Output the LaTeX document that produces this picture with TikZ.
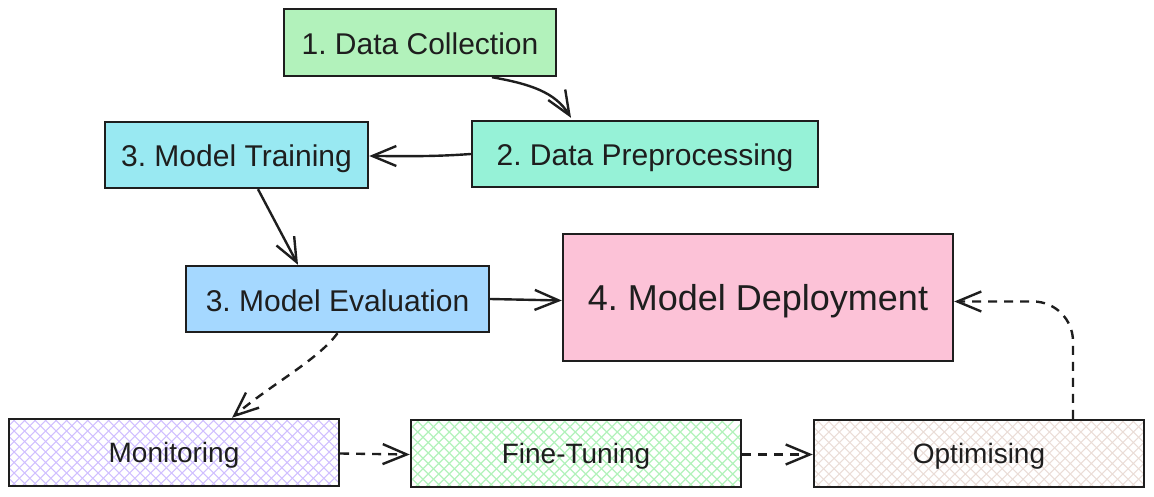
\documentclass[tikz,border=0pt]{standalone}
\usepackage{fontspec}
\setmainfont{Liberation Sans}
\usetikzlibrary{arrows.meta}
\frenchspacing
\definecolor{ink}{HTML}{1E1E1E}
\definecolor{cDC}{HTML}{B2F2BB}
\definecolor{cDP}{HTML}{96F2D7}
\definecolor{cMT}{HTML}{99E9F2}
\definecolor{cME}{HTML}{A5D8FF}
\definecolor{cMD}{HTML}{FCC2D7}
\definecolor{hMon}{HTML}{D0BFFF}
\definecolor{hFT}{HTML}{B2F2BB}
\definecolor{hOpt}{HTML}{EADDD7}
\tikzset{
  box/.style={draw=ink, line width=2.4pt, inner sep=0pt, text=ink, text height=24pt, text depth=0pt,
    font=\fontsize{30}{32}\selectfont},
  hatchbox/.style={box, font=\fontsize{28}{30}\selectfont, text height=20pt,
    path picture={
      \foreach \i in {-262.5,-252,...,262.5} {
        \draw[#1, line width=1.2pt, shift={(path picture bounding box.center)}]
          (\i-60,-60) -- (\i+60,60) (\i-60,60) -- (\i+60,-60);
      }
    }},
  arr/.style={draw=ink, line width=2.4pt, -{Straight Barb[length=24pt,width=20pt,line width=2.4pt]}},
  darr/.style={arr, dash pattern=on 9pt off 7pt},
}
\begin{document}
\begin{tikzpicture}[x=1pt,y=-1pt]
\useasboundingbox (0,0) rectangle (1154,497);
\node[box, fill=cDC, minimum width=272pt, minimum height=67pt] (dc) at (420,42.5) {1. Data Collection};
\node[box, fill=cDP, minimum width=346pt, minimum height=66pt] (dp) at (645,154) {2. Data Preprocessing};
\node[box, fill=cMT, minimum width=263pt, minimum height=66pt] (mt) at (236.5,155) {3. Model Training};
\node[box, fill=cME, minimum width=303pt, minimum height=66pt] (me) at (337.5,299) {3. Model Evaluation};
\node[box, fill=cMD, minimum width=390pt, minimum height=127pt, text height=26pt, font=\fontsize{36}{40}\selectfont] (md) at (758,297.5) {4. Model Deployment};
\node[hatchbox=hMon, minimum width=330pt, minimum height=67pt] (mon) at (174,452.5) {Monitoring};
\node[hatchbox=hFT, minimum width=330pt, minimum height=67pt] (ft) at (576,453.5) {Fine-Tuning};
\node[hatchbox=hOpt, minimum width=330pt, minimum height=67pt] (opt) at (979,453.5) {Optimising};

\draw[arr] ([xshift=72pt]dc.south) .. controls (530,84) and (555,92) .. ([xshift=-74pt,yshift=2pt]dp.north);
\draw[arr] (dp.west) .. controls (430,157) and (400,156) .. ([yshift=-1pt]mt.east);
\draw[arr] ([xshift=21.5pt]mt.south) -- ([xshift=-39.5pt]me.north);
\draw[arr] (me.east) -- ([yshift=-3pt]md.west);
\draw[darr] (me.south) .. controls (318,360) and (270,385) .. ([xshift=58pt]mon.north);
\draw[darr] ([yshift=-1pt]mon.east) -- ([yshift=-1pt]ft.west);
\draw[darr] ([yshift=-1pt]ft.east) -- ([yshift=-1pt]opt.west);
\draw[darr, rounded corners=40pt] ([xshift=94pt]opt.north) |- ([yshift=-4pt]md.east);
\end{tikzpicture}
\end{document}
